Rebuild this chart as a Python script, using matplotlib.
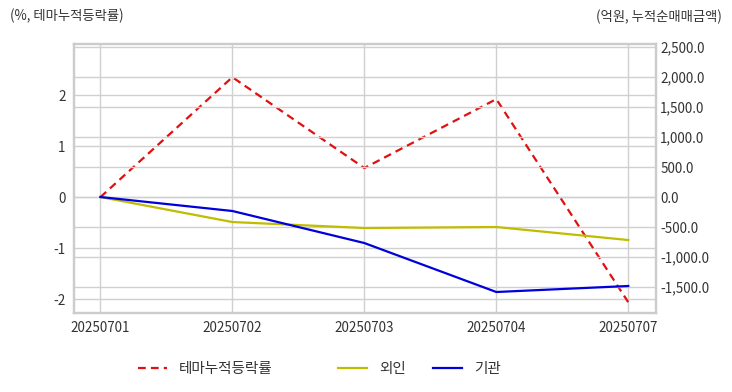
import matplotlib
matplotlib.use('Agg')
import matplotlib.pyplot as plt
from matplotlib.ticker import FuncFormatter

plt.rcParams['font.family'] = ['Noto Sans CJK KR', 'DejaVu Sans']
plt.rcParams['axes.unicode_minus'] = False

# chart values
dates = ['20250701', '20250702', '20250703', '20250704', '20250707']
theme_return = [0.0, 2.35, 0.57, 1.92, -2.06]      # %, left axis
foreign_net = [0.0, -417.0, -517.0, -500.0, -717.0]  # 억원, right axis
inst_net = [0.0, -233.0, -767.0, -1583.0, -1483.0]   # 억원, right axis

left_ticks = [-2, -1, 0, 1, 2]
right_ticks = [-1500, -1000, -500, 0, 500, 1000, 1500, 2000, 2500]

grid_color = '#d0d0d0'
text_color = '#333333'

fig = plt.figure(figsize=(7.32, 3.92), dpi=100)
ax = fig.add_axes([74 / 732, 1 - 313 / 392, (656 - 74) / 732, (313 - 44) / 392])
ax2 = ax.twinx()

x = range(len(dates))
l1, = ax.plot(x, theme_return, color='#e01010', linestyle='--', linewidth=1.6,
              dashes=(3.5, 2.3), label='테마누적등락률')
l2, = ax2.plot(x, foreign_net, color='#c0bc00', linewidth=1.6, label='외인')
l3, = ax2.plot(x, inst_net, color='#0000dd', linewidth=1.6, label='기관')

ax.set_xlim(-0.2, len(dates) - 1 + 0.21)
ax.set_ylim(-2.27, 3.0)
ax2.set_ylim(-1933, 2550)

ax.set_xticks(list(x))
ax.set_xticklabels(dates)
ax.set_yticks(left_ticks)
ax2.set_yticks(right_ticks)
ax2.yaxis.set_major_formatter(FuncFormatter(lambda v, p: f'{v:,.1f}'))

ax.grid(True, color=grid_color, linewidth=1)
ax2.grid(True, axis='y', color=grid_color, linewidth=1)
ax.set_axisbelow(True)

for a in (ax, ax2):
    for s in a.spines.values():
        s.set_color('#cccccc')
        s.set_linewidth(1.6)
    a.tick_params(length=0, labelsize=9.7, labelcolor=text_color)
ax.tick_params(axis='x', pad=6)
ax.tick_params(axis='y', pad=6)
ax2.tick_params(axis='y', pad=3)

fig.text(10 / 732, 1 - 16 / 392, '(%, 테마누적등락률)', fontsize=9.6, color=text_color,
         ha='left', va='center')
fig.text(722 / 732, 1 - 17 / 392, '(억원, 누적순매매금액)', fontsize=9.6, color=text_color,
         ha='right', va='center')

# three separate legend entries, placed like the reference
legend_x = [138, 338, 433]
for handle, lx in zip([l1, l2, l3], legend_x):
    leg = fig.legend(handles=[handle], loc='center left',
                     bbox_to_anchor=(lx / 732, 1 - 369 / 392), frameon=False,
                     fontsize=10.5, handlelength=2.0, handletextpad=0.8,
                     borderaxespad=0, borderpad=0, labelcolor=text_color)

fig.savefig('out.png', dpi=100)
